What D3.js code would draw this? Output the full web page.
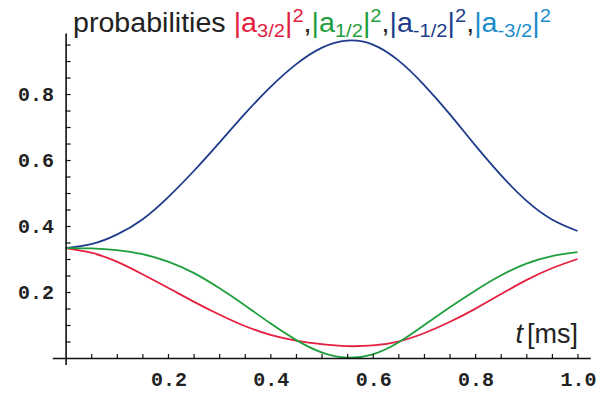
<!DOCTYPE html>
<html>
<head>
<meta charset="utf-8">
<script src="https://cdn.jsdelivr.net/npm/d3@7/dist/d3.min.js"></script>
<style>
  html, body { margin: 0; padding: 0; background: #fff; }
  svg { display: block; }
  .tick-label { font-family: "Liberation Mono", "Courier New", monospace; font-weight: bold; font-size: 20px; fill: #222; }
</style>
</head>
<body>
<svg id="chart" width="613" height="396"></svg>
<script>
// ------------------- Data -------------------
const times = [0, 0.05, 0.1, 0.15, 0.2, 0.25, 0.3, 0.35, 0.4, 0.45, 0.5,
               0.55, 0.6, 0.65, 0.7, 0.75, 0.8, 0.85, 0.9, 0.95, 1.0];

// |a_3/2|^2 (red)
const pRed = [0.333, 0.319, 0.292, 0.254, 0.213, 0.171, 0.132, 0.097, 0.070, 0.053, 0.042,
              0.036, 0.038, 0.050, 0.075, 0.109, 0.149, 0.193, 0.236, 0.272, 0.300];
// |a_1/2|^2 (green)
const pGreen = [0.333, 0.332, 0.327, 0.315, 0.292, 0.258, 0.212, 0.160, 0.105, 0.055, 0.017,
                0.001, 0.011, 0.047, 0.099, 0.153, 0.204, 0.250, 0.286, 0.309, 0.321];
// |a_-1/2|^2 (dark blue)
const pBlue = [0.333, 0.345, 0.374, 0.420, 0.487, 0.566, 0.652, 0.740, 0.821, 0.890, 0.940,
               0.962, 0.950, 0.902, 0.828, 0.740, 0.645, 0.555, 0.477, 0.420, 0.385];

const xLabels = [0.2, 0.4, 0.6, 0.8, 1.0];
const yLabels = [0.2, 0.4, 0.6, 0.8];

// ------------------- Setup -------------------
const svg = d3.select("#chart");

const x = d3.scaleLinear().domain([-0.026, 1.025]).range([52.3, 590.3]);
const y = d3.scaleLinear().domain([-0.02, 0.985]).range([364.6, 33]);

const colors = {
  red: "#e3203f",
  green: "#1f9e3c",
  blue: "#1e3c8c",
  light: "#1b8ccc"
};

// ------------------- Curves -------------------
const line = d3.line()
  .x((d, i) => x(times[i]))
  .y(d => y(d))
  .curve(d3.curveNatural);

const series = [
  { vals: pBlue, color: colors.blue },
  { vals: pRed, color: colors.red },
  { vals: pGreen, color: colors.green }
];

svg.selectAll("path.curve")
  .data(series)
  .join("path")
    .attr("class", "curve")
    .attr("d", d => line(d.vals))
    .attr("fill", "none")
    .attr("stroke", d => d.color)
    .attr("stroke-width", 1.8);

// ------------------- Axes -------------------
const minorX = d3.range(1, 21).map(i => i * 0.05);
const minorY = d3.range(1, 20).map(i => i * 0.05);

const xAxis = svg.append("g")
  .attr("transform", `translate(0, ${y(0)})`)
  .call(d3.axisBottom(x).tickValues(minorX).tickSize(-4).tickSizeOuter(0).tickFormat(""));

const yAxis = svg.append("g")
  .attr("transform", `translate(${x(0)}, 0)`)
  .call(d3.axisLeft(y).tickValues(minorY).tickSize(-5).tickSizeOuter(0).tickFormat(""));

[xAxis, yAxis].forEach(a => {
  a.select(".domain").attr("stroke", "#111").attr("stroke-width", 1.6);
  a.selectAll(".tick line").attr("stroke", "#111").attr("stroke-width", 1.2);
});

// tick labels
svg.selectAll("text.xlab")
  .data(xLabels)
  .join("text")
    .attr("class", "tick-label xlab")
    .attr("x", d => x(d) + 1)
    .attr("y", 386)
    .attr("text-anchor", "middle")
    .text(d => d.toFixed(1));

svg.selectAll("text.ylab")
  .data(yLabels)
  .join("text")
    .attr("class", "tick-label ylab")
    .attr("x", 54)
    .attr("y", d => y(d) + 7)
    .attr("text-anchor", "end")
    .text(d => d.toFixed(1));

// ------------------- Axis title -------------------
const tTitle = svg.append("text")
  .attr("x", 578)
  .attr("y", 343)
  .attr("text-anchor", "end")
  .attr("font-family", "Liberation Sans, Arial, sans-serif")
  .attr("font-size", 27)
  .attr("fill", "#222");
tTitle.append("tspan").attr("font-style", "italic").text("t");
tTitle.append("tspan").attr("dx", 4).text("[ms]");

// ------------------- Title -------------------
const title = svg.append("text")
  .attr("transform", "translate(73, 32) scale(1.06, 1)")
  .attr("font-family", "Liberation Sans, Arial, sans-serif")
  .attr("font-size", 27)
  .attr("fill", "#222");

title.append("tspan").text("probabilities ");

const parts = [
  { sub: "3/2", color: colors.red },
  { sub: "1/2", color: colors.green },
  { sub: "-1/2", color: colors.blue },
  { sub: "-3/2", color: colors.light }
];

parts.forEach((p, i) => {
  title.append("tspan").attr("fill", p.color).text("|a");
  title.append("tspan").attr("fill", p.color).attr("font-size", 19).attr("dy", 5).text(p.sub);
  title.append("tspan").attr("fill", p.color).attr("dy", -5).text("|");
  title.append("tspan").attr("fill", p.color).attr("font-size", 19).attr("dy", -10).text("2");
  title.append("tspan").attr("dy", 10).text(i < parts.length - 1 ? "," : "");
});
</script>
</body>
</html>
